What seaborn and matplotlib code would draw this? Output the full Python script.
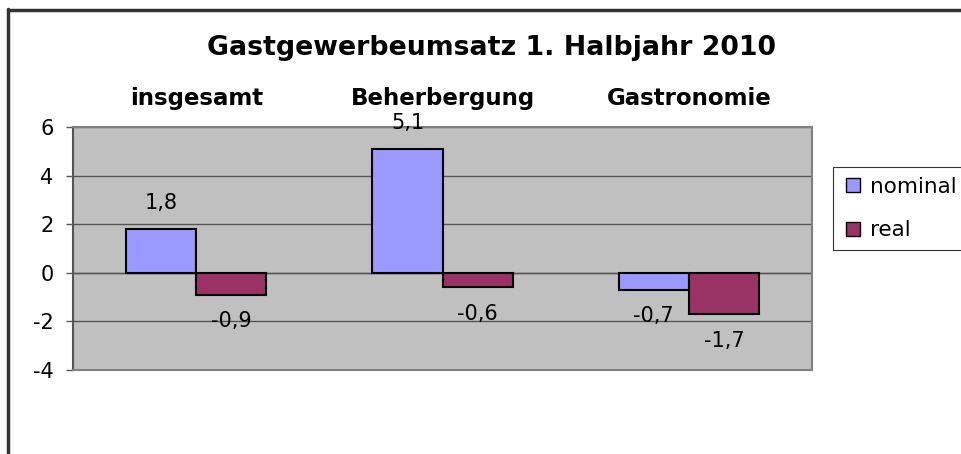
import pandas as pd
import seaborn as sns
import matplotlib.pyplot as plt
from matplotlib.lines import Line2D

# Daten
kategorien = ['insgesamt', 'Beherbergung', 'Gastronomie']
nominal = [1.8, 5.1, -0.7]
real = [-0.9, -0.6, -1.7]
serien = ['nominal', 'real']
farben = ['#9999FF', '#993366']
y_ticks = [-4, -2, 0, 2, 4, 6]

data = pd.DataFrame({
    'Kategorie': kategorien * 2,
    'Serie': ['nominal'] * 3 + ['real'] * 3,
    'Wert': nominal + real,
})

sns.set_style('white')
plt.rcParams['font.family'] = ['DejaVu Sans']
plt.rcParams['text.color'] = 'black'
plt.rcParams['xtick.color'] = 'black'
plt.rcParams['ytick.color'] = 'black'

fig = plt.figure(figsize=(9.61, 4.54), dpi=100)
ax = fig.add_axes([0.076, 0.185, 0.769, 0.535])
ax.set_facecolor('#C0C0C0')

sns.barplot(data=data, x='Kategorie', y='Wert', hue='Serie', order=kategorien,
            hue_order=serien, palette=farben, width=0.57, saturation=1,
            edgecolor='black', linewidth=1.5, ax=ax, legend=False, zorder=3)

# Datenbeschriftungen
for cont in ax.containers:
    for bar in cont:
        h = bar.get_height()
        x = bar.get_x() + bar.get_width() / 2
        off = 19 if h >= 0 else -19
        ax.annotate(f'{h:.1f}'.replace('.', ','), (x, h), xytext=(0, off),
                    textcoords='offset points', ha='center', va='center',
                    fontsize=15, zorder=5)

ax.set_ylim(-4, 6)
ax.set_yticks(y_ticks)
ax.set_yticklabels([str(t) for t in y_ticks], fontsize=15)
ax.set_xlim(-0.5, 2.5)
ax.grid(axis='y', color='#555555', linewidth=1, zorder=0)
ax.set_axisbelow(True)
ax.axhline(0, color='#555555', linewidth=1, zorder=1)
ax.tick_params(axis='y', length=5, width=1, color='#555555', left=True, pad=9)
ax.xaxis.tick_top()
ax.tick_params(axis='x', length=0, labelsize=16.5, pad=12)
for lbl in ax.get_xticklabels():
    lbl.set_fontweight('bold')
ax.set_xlabel('')
ax.set_ylabel('')
for side in ['top', 'right', 'bottom']:
    ax.spines[side].set_color('#808080')
    ax.spines[side].set_linewidth(1.5)
ax.spines['left'].set_color('#555555')
ax.spines['left'].set_linewidth(1.5)

fig.text(0.511, 0.894, 'Gastgewerbeumsatz 1. Halbjahr 2010', ha='center',
         va='center', fontsize=19.3, fontweight='bold')

# Legende
handles = [Line2D([], [], marker='s', linestyle='', markersize=9.5,
                  markerfacecolor=c, markeredgecolor='black') for c in farben]
leg = fig.legend(handles, serien, loc='upper left', bbox_to_anchor=(0.867, 0.632),
                 fontsize=15.5, frameon=True, fancybox=False, edgecolor='black',
                 handletextpad=0.35, labelspacing=1.1, borderpad=0.45,
                 handlelength=0.9, borderaxespad=0)
leg.get_frame().set_linewidth(0.8)

# Diagrammrahmen
fig.add_artist(Line2D([0.0083, 0.0083], [0, 0.98], color='#333333', linewidth=2.5,
                      transform=fig.transFigure))
fig.add_artist(Line2D([0.0083, 1.0], [0.978, 0.978], color='#333333', linewidth=2.5,
                      transform=fig.transFigure))

plt.savefig('out.png', dpi=100)
